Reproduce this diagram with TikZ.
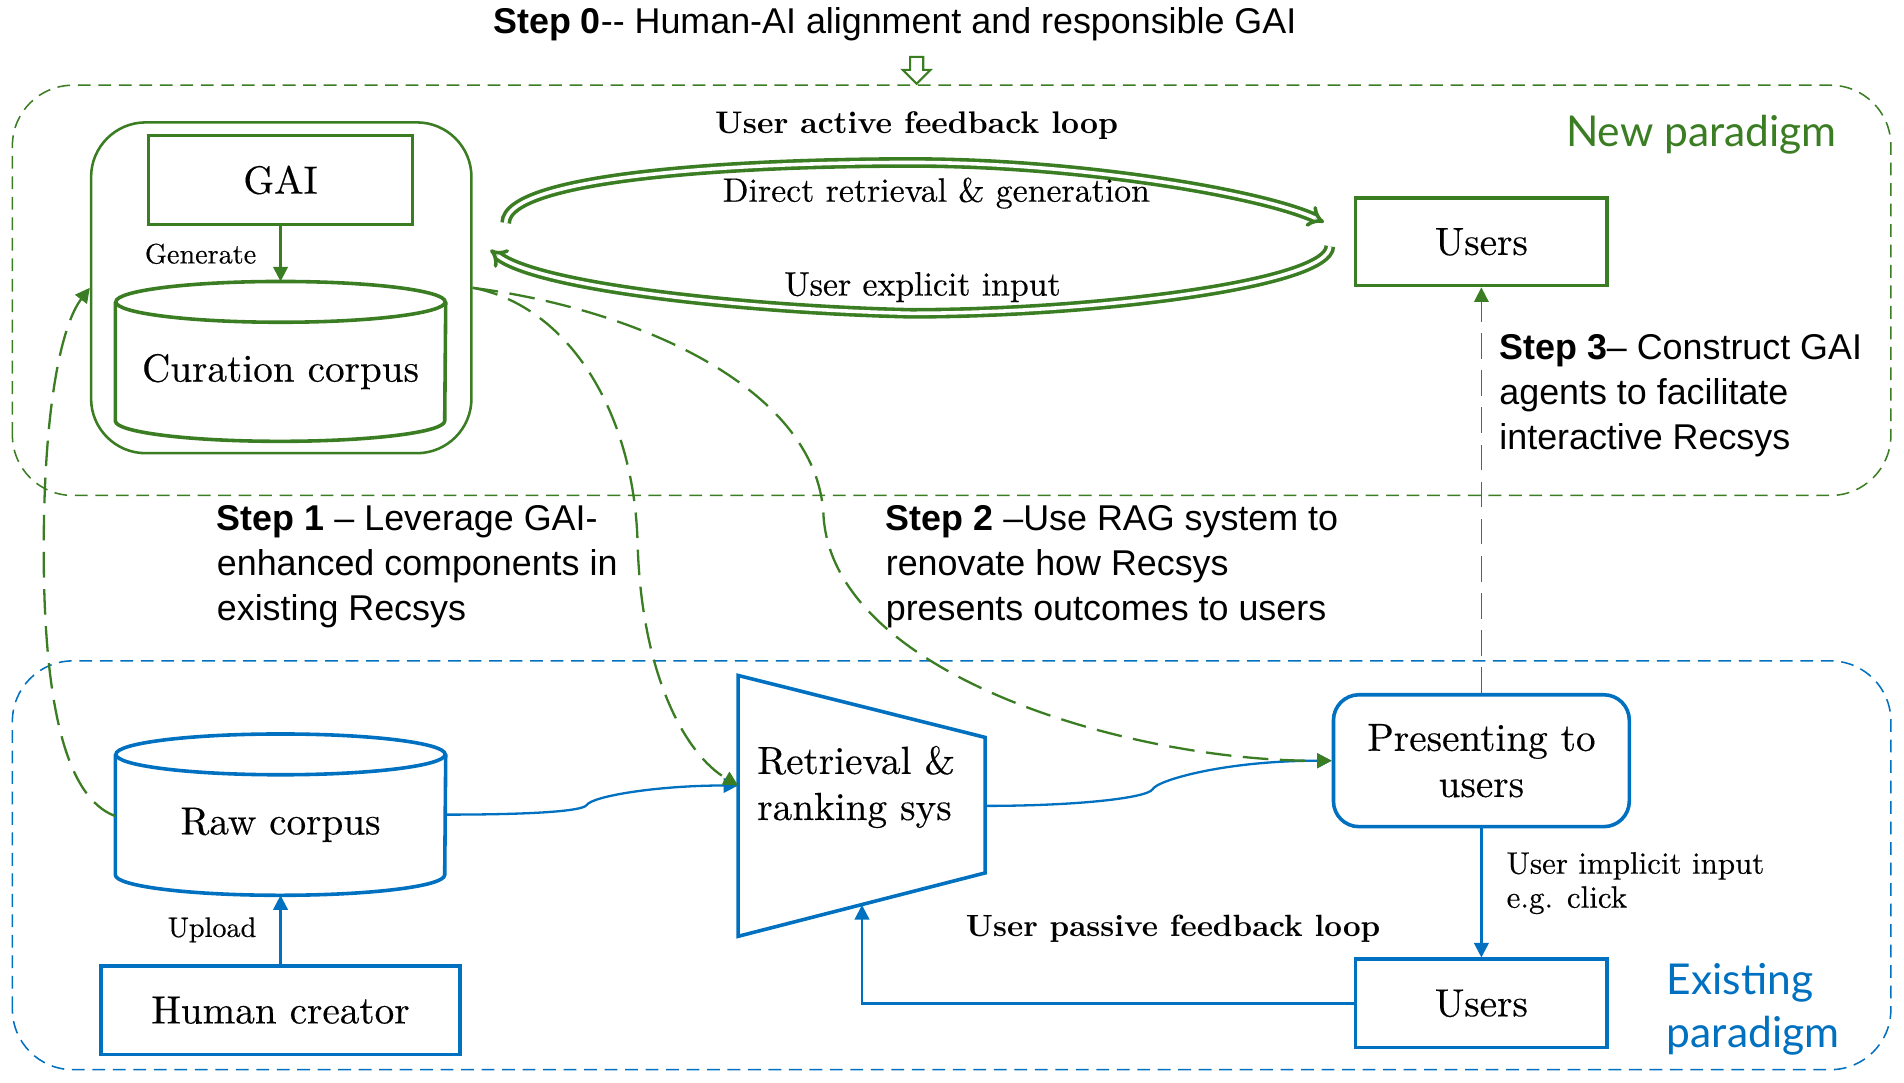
\documentclass[tikz,border=0pt]{standalone}
\usepackage{fontspec}
\setmainfont{lmroman10-regular.otf}[BoldFont=lmroman10-bold.otf, ItalicFont=lmroman10-italic.otf, UprightFeatures={FakeBold=0.35}]
\newfontfamily\stepfont{Liberation Sans}
\newfontfamily\handfont{Lato}
\usetikzlibrary{arrows.meta}
\definecolor{gaigreen}{HTML}{3B7D23}
\definecolor{sysblue}{HTML}{0070C0}
\begin{document}
\begin{tikzpicture}[
    gbox/.style={draw=gaigreen, line width=1.4pt, inner sep=0pt},
    bbox/.style={draw=sysblue, line width=1.4pt, inner sep=0pt},
    bigtext/.style={font=\fontsize{15.3}{18}\selectfont},
    smalltext/.style={font=\fontsize{11}{13}\selectfont, text=black},
    steptext/.style={font=\stepfont\fontsize{14}{17.5}\selectfont, align=left, inner sep=0pt, anchor=west},
    glink/.style={gaigreen, line width=0.9pt, -{Triangle[length=2mm,width=2mm]}},
    blink/.style={sysblue, line width=0.9pt, -{Triangle[length=2mm,width=2mm]}},
    gdash/.style={glink, dash pattern=on 10pt off 4.5pt},
    loopband/.style={gaigreen, line width=1.4pt, double=white, double distance=1.4pt, -Implies},
    frame/.style={line width=0.6pt, dash pattern=on 5pt off 3pt, rounded corners=0.83cm}
  ]
    \useasboundingbox (0,0) rectangle (26.13,14.85);
    \draw[frame, gaigreen] (0.17,8.05) rectangle (25.95,13.68);
    \draw[frame, sysblue] (0.17,0.17) rectangle (25.95,5.78);

    \node[font=\stepfont\fontsize{14}{17}\selectfont, inner sep=0pt] (step0) at (12.28,14.52)
        {\textbf{Step 0}-{}- Human-AI alignment and responsible GAI};
    \draw[gaigreen, line width=0.8pt] (12.58,13.70) -- (12.77,13.89) -- (12.67,13.89) -- (12.67,14.07)
        -- (12.49,14.07) -- (12.49,13.89) -- (12.39,13.89) -- cycle;

    \node[font=\handfont\fontsize{16.6}{20}\selectfont, text=gaigreen, inner sep=0pt] (newp) at (23.35,13.0) {New paradigm};
    \node[font=\handfont\fontsize{16.6}{20.8}\selectfont, text=sysblue, align=left, anchor=west, inner sep=0pt] (oldp)
        at (22.87,1.0) {Existing\\paradigm};

    % new paradigm
    \node[draw=gaigreen, line width=1pt, rounded corners=0.75cm, minimum width=5.22cm, minimum height=4.54cm] (gen) at (3.86,10.9) {};
    \node[gbox, bigtext, minimum width=3.62cm, minimum height=1.22cm] (gai) at (3.85,12.38) {GAI};
    \node[bigtext, minimum width=4.52cm, minimum height=1.9cm, inner sep=0pt] (cur) at (3.85,9.75) {Curation corpus};
    \draw[gaigreen, line width=1.4pt] (cur.north west) -- ([yshift=2.8mm]cur.south west)
        arc[start angle=180, end angle=360, x radius=2.26cm, y radius=2.8mm] -- (cur.north east);
    \draw[gaigreen, line width=1.4pt] (cur.north) ellipse[x radius=2.26cm, y radius=2.8mm];
    \draw[glink] (gai.south) -- ([yshift=2.8mm]cur.north) node[midway, left=2mm, smalltext] {Generate};

    \node[gbox, bigtext, minimum width=3.45cm, minimum height=1.2cm] (utop) at (20.33,11.53) {Users};

    \coordinate (loop-a) at (6.94,11.79);
    \coordinate (loop-b) at (18.17,11.8);
    \coordinate (loop-c) at (18.25,11.47);
    \coordinate (loop-d) at (6.73,11.42);
    \draw[loopband] (loop-a) .. controls (6.94,12.45) and (10.3,12.62) .. (12.5,12.62)
        .. controls (14.8,12.62) and (17.3,12.2) .. (loop-b);
    \draw[loopband] (loop-c) .. controls (18.25,10.95) and (15.0,10.55) .. (12.5,10.55)
        .. controls (10.3,10.6) and (7.4,10.9) .. (loop-d);
    \node[font=\bfseries\fontsize{12.2}{14}\selectfont] (active) at (12.58,13.12) {User active feedback loop};
    \node[font=\fontsize{13.2}{15}\selectfont] (direct) at (12.85,12.2) {Direct retrieval \& generation};
    \node[font=\fontsize{13.2}{15}\selectfont] (explicit) at (12.66,10.91) {User explicit input};

    \node[steptext] (step1) at (2.97,7.07) {\textbf{Step 1} – Leverage GAI-\\enhanced components in\\existing Recsys};
    \node[steptext] (step2) at (12.15,7.07) {\textbf{Step 2} –Use RAG system to\\renovate how Recsys\\presents outcomes to users};
    \node[steptext] (step3) at (20.57,9.42) {\textbf{Step 3}– Construct GAI\\agents to facilitate\\interactive Recsys};

    % existing paradigm
    \node[bigtext, minimum width=4.52cm, minimum height=1.92cm, inner sep=0pt] (raw) at (3.85,3.53) {Raw corpus};
    \draw[sysblue, line width=1.4pt] (raw.north west) -- ([yshift=2.8mm]raw.south west)
        arc[start angle=180, end angle=360, x radius=2.26cm, y radius=2.8mm] -- (raw.north east);
    \draw[sysblue, line width=1.4pt] (raw.north) ellipse[x radius=2.26cm, y radius=2.8mm];
    \node[bbox, bigtext, minimum width=4.92cm, minimum height=1.21cm] (human) at (3.85,0.985) {Human creator};
    \draw[blink] (human.north) -- (raw.south) node[midway, left=2mm, smalltext] {Upload};

    \draw[sysblue, line width=1.4pt] (10.13,5.58) -- (13.52,4.73) -- (13.52,2.87) -- (10.13,2.0) -- cycle;
    \node[bigtext, align=left, inner sep=0pt] (rank) at (11.75,4.05) {Retrieval \&\\ranking sys};
    \coordinate (rank-in) at (10.13,4.07);
    \coordinate (rank-out) at (13.52,3.79);
    \coordinate (rank-fb) at (11.83,2.43);

    \node[bbox, bigtext, rounded corners=0.35cm, align=center, minimum width=4.06cm, minimum height=1.81cm] (present)
        at (20.33,4.41) {Presenting to\\users};
    \node[bbox, bigtext, minimum width=3.45cm, minimum height=1.21cm] (ubot) at (20.33,1.08) {Users};

    \draw[blink] ([yshift=1.4mm]raw.east) .. controls (7.2,3.67) and (7.98,3.71) .. (8.05,3.8)
        .. controls (8.12,3.92) and (9.0,4.07) .. (rank-in);
    \draw[blink] (rank-out) .. controls (14.8,3.79) and (15.75,3.9) .. (15.82,4.02)
        .. controls (15.88,4.14) and (16.8,4.41) .. (present.west);
    \draw[blink] (present.south) -- (ubot.north);
    \node[font=\fontsize{12.1}{13.3}\selectfont, align=left, anchor=west, inner sep=0pt] (implicit) at (20.67,2.73)
        {User implicit input\\e.g. click};
    \draw[blink] (ubot.west) -| (rank-fb);
    \node[font=\bfseries\fontsize{12}{14}\selectfont] (passive) at (16.1,2.1) {User passive feedback loop};

    % steps
    \draw[gdash] ([yshift=1.2mm]raw.west) .. controls (0.9,3.9) and (0.6,5.2) .. (0.6,7.3)
        .. controls (0.6,9.3) and (0.85,10.4) .. (gen.west);
    \draw[gdash] (gen.east) .. controls (7.8,10.65) and (8.7,9.2) .. (8.75,7.4)
        .. controls (8.8,5.6) and (9.4,4.5) .. (rank-in);
    \draw[gdash] (gen.east) .. controls (8.8,10.6) and (11.2,9.5) .. (11.3,7.8)
        .. controls (11.4,5.6) and (15.5,4.4) .. (present.west);
    \draw[gdash, line width=0.7pt] (present.north) -- (utop.south);
\end{tikzpicture}
\end{document}
